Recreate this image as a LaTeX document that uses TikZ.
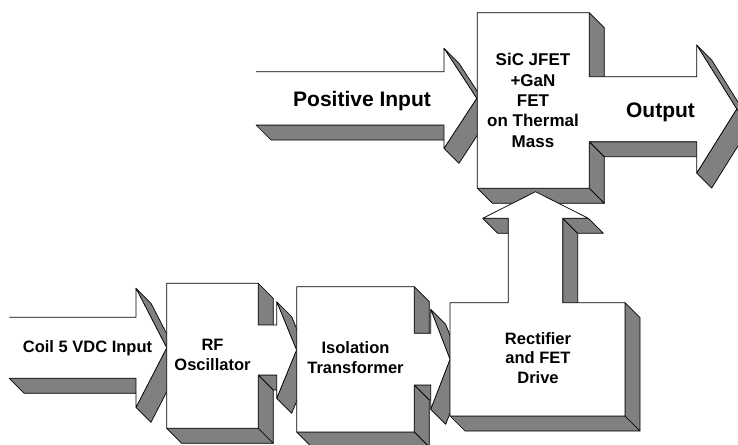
\documentclass[tikz,border=0pt]{standalone}
\usepackage{fontspec}
\setmainfont{Liberation Sans}
\usepackage{tikz}

% block with its sides drawn out to the lower right (points go anticlockwise)
% optional arg: how the outline is closed (empty = left end left open)
\newcommand\slab[4][-- cycle]{%
  \foreach \x/\y [remember=\x as \lx (initially #2), remember=\y as \ly (initially #3)] in {#4,#2/#3}{%
    \pgfmathtruncatemacro\vis{(\y-\ly)<(\x-\lx)}%
    \ifnum\vis>0
      \filldraw[face] (\lx,\ly) -- (\x,\y) -- ++(15,15) -- ++({\lx-\x},{\ly-\y}) -- cycle;
    \fi
  }%
  \fill[white] (#2,#3) \foreach \x/\y in {#4}{ -- (\x,\y)} -- cycle;
  \draw[front] (#2,#3) \foreach \x/\y in {#4}{ -- (\x,\y)} #1;
}

\begin{document}
\begin{tikzpicture}[x=1pt,y=-1pt,
    face/.style={fill=gray,draw=black,line width=0.7pt,line join=round},
    front/.style={draw=black,line width=0.7pt,line join=round},
    lbl/.style={font=\bfseries\fontsize{16.5}{19.5}\selectfont,align=center,anchor=base,inner sep=0pt},
    big/.style={lbl,font=\bfseries\fontsize{21}{25}\selectfont}]
    \useasboundingbox (0,0) rectangle (738,444);

    %top row
    \slab[]{256}{125}{444/125, 444/148.3, 476.7/98.3, 444/48.3, 444/71.7, 256/71.7}
    \slab{477.3}{12.7}{477.3/188.3, 589.3/188.3, 589.3/141.7, 696.7/141.7, 696.7/173, 736.7/109,
        696.7/45, 696.7/76.7, 589.3/76.7, 589.3/12.7}

    %bottom row
    \slab[]{9.3}{378.3}{136/378.3, 136/407.3, 166.7/347.8, 136/288.3, 136/317.3, 9.3/317.3}
    \slab{166.7}{283.3}{166.7/428.3, 258.3/428.3, 258.3/375, 276.7/375, 276.7/398.3, 296.5/350,
        276.7/301.7, 276.7/325, 258.3/325, 258.3/283.3}
    \slab{296.7}{286.7}{296.7/432, 414.3/432, 414.3/385, 430.7/385, 430.7/409.3, 450/359.3,
        430.7/309.3, 430.7/333.3, 414.3/333.3, 414.3/286.7}
    \slab{450}{302.7}{450/416, 625/416, 625/302.7, 562.7/302.7, 562.7/218.3, 588.3/218.3,
        535.5/191.7, 482.7/218.3, 508.3/218.3, 508.3/302.7}

    %labels (base = last line)
    \node[big] (pin) at (362,106) {Positive Input};
    \node[big] (out) at (660.5,117.3) {Output};
    \node[lbl,font=\bfseries\fontsize{17}{20.4}\selectfont] (fet) at (533,147.3) {SiC JFET\\+GaN\\FET\\on Thermal\\Mass};
    \node[lbl] (coil) at (87.5,352.7) {Coil 5 VDC Input};
    \node[lbl] (rf) at (212.5,370) {RF\\Oscillator};
    \node[lbl] (iso) at (355.5,373.3) {Isolation\\Transformer};
    \node[lbl] (rect) at (538,383.3) {Rectifier\\and FET\\Drive};
\end{tikzpicture}
\end{document}
